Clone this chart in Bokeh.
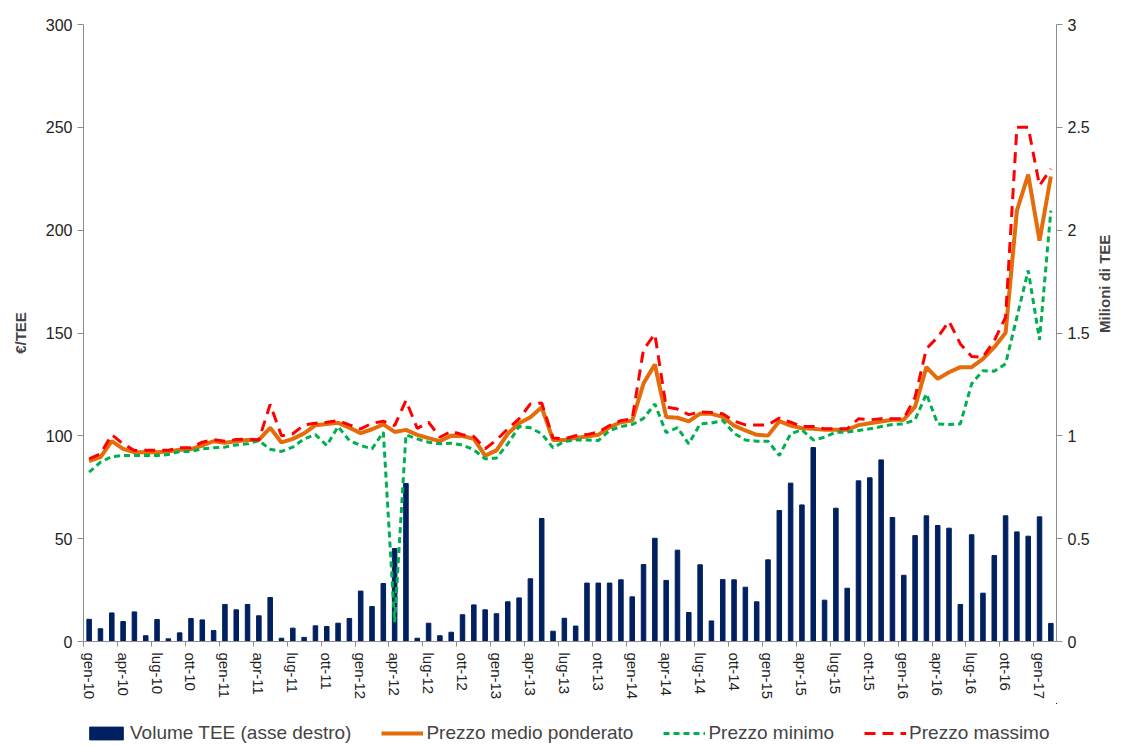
import math
from bokeh.plotting import figure
from bokeh.layouts import column
from bokeh.models import (Range1d, LinearAxis, FixedTicker, Legend, LegendItem,
                          CustomJSTickFormatter)
from bokeh.embed import file_html
from bokeh.resources import INLINE

# ---------------- data ----------------
month_names = ["gen", "feb", "mar", "apr", "mag", "giu", "lug", "ago", "set", "ott", "nov", "dic"]
months = [f"{month_names[i % 12]}-{10 + i // 12}" for i in range(86)]  # gen-10 ... feb-17

volume_mln = [0.108, 0.062, 0.139, 0.097, 0.144, 0.028, 0.107, 0.013, 0.042, 0.112,
              0.105, 0.053, 0.180, 0.154, 0.180, 0.125, 0.214, 0.016, 0.065, 0.020,
              0.076, 0.073, 0.089, 0.112, 0.245, 0.170, 0.282, 0.452, 0.768, 0.016,
              0.089, 0.028, 0.045, 0.130, 0.178, 0.154, 0.135, 0.193, 0.212, 0.305,
              0.598, 0.050, 0.113, 0.075, 0.284, 0.284, 0.284, 0.300, 0.217, 0.374,
              0.502, 0.297, 0.444, 0.141, 0.373, 0.100, 0.301, 0.300, 0.264, 0.193,
              0.397, 0.637, 0.770, 0.664, 0.943, 0.201, 0.648, 0.259, 0.781, 0.796,
              0.883, 0.603, 0.322, 0.515, 0.611, 0.564, 0.551, 0.180, 0.519, 0.235,
              0.418, 0.611, 0.533, 0.512, 0.606, 0.088]

prezzo_medio = [87.7, 89.6, 97.4, 93.7, 92.0, 92.0, 92.0, 92.4, 93.2, 93.5,
                95.3, 97.4, 96.6, 97.4, 98.0, 98.0, 103.9, 96.8, 98.5, 101.2,
                105.2, 105.8, 106.3, 104.0, 101.3, 103.2, 105.6, 101.9, 102.9, 100.5,
                98.9, 97.4, 100.1, 99.9, 98.5, 90.4, 92.9, 101.0, 106.1, 109.0,
                113.9, 98.0, 98.0, 99.0, 99.7, 100.5, 104.2, 106.6, 107.4, 125.5,
                134.7, 109.2, 108.8, 107.0, 110.8, 110.7, 109.2, 105.0, 102.6, 100.5,
                100.1, 107.1, 105.0, 103.7, 103.4, 102.9, 102.9, 102.9, 105.2, 106.1,
                107.0, 107.8, 107.8, 114.2, 133.4, 127.7, 130.9, 133.4, 133.4, 137.4,
                143.1, 150.1, 209.5, 227.0, 194.9, 226.1]

prezzo_minimo = [82.3, 87.2, 89.9, 90.4, 90.4, 90.4, 90.4, 90.9, 92.4, 92.4,
                 93.7, 94.2, 94.5, 95.6, 96.1, 97.7, 93.5, 92.4, 94.5, 98.5,
                 100.6, 95.3, 104.5, 97.7, 95.3, 93.7, 101.8, 9.4, 100.5, 98.5,
                 96.9, 96.1, 96.4, 95.5, 93.2, 88.8, 89.2, 96.1, 104.5, 103.9,
                 101.0, 94.2, 97.2, 98.0, 98.0, 97.7, 102.6, 104.5, 105.5, 108.5,
                 115.5, 101.5, 104.0, 96.1, 105.8, 106.2, 107.5, 101.2, 98.0, 97.4,
                 97.4, 90.4, 101.0, 102.9, 98.0, 99.3, 101.8, 101.8, 102.6, 103.4,
                 104.5, 105.5, 105.8, 107.8, 120.4, 105.8, 105.5, 105.8, 125.3, 131.7,
                 131.4, 135.0, 157.7, 180.4, 146.7, 209.5]

prezzo_massimo = [88.8, 91.2, 100.5, 96.1, 92.9, 93.0, 93.0, 93.0, 94.2, 94.2,
                  96.9, 98.2, 97.4, 98.2, 98.5, 98.0, 115.3, 100.0, 101.0, 105.3,
                  106.1, 106.6, 107.4, 105.3, 103.4, 106.1, 107.1, 105.0, 117.2, 103.6,
                  106.6, 99.3, 102.2, 100.5, 99.7, 93.7, 98.0, 103.4, 108.3, 115.5,
                  116.0, 99.0, 98.5, 100.1, 100.6, 101.8, 105.0, 107.4, 108.3, 142.0,
                  149.5, 114.0, 113.0, 110.3, 111.6, 111.3, 110.7, 107.2, 105.3, 105.3,
                  105.3, 108.6, 106.6, 104.5, 104.5, 103.4, 103.4, 103.4, 108.3, 107.8,
                  108.3, 108.3, 108.3, 118.8, 142.3, 148.0, 155.7, 144.7, 138.6, 138.2,
                  146.3, 157.7, 250.0, 250.0, 221.7, 229.8]

left_ticks = [0, 50, 100, 150, 200, 250, 300]
right_ticks = [0, 0.5, 1, 1.5, 2, 2.5, 3]

legend_labels = ["Volume TEE (asse destro)", "Prezzo medio ponderato",
                 "Prezzo minimo", "Prezzo massimo"]

x = list(range(len(months)))
label_ticks = list(range(0, len(months), 3))
boundary_ticks = [t - 0.5 for t in range(0, len(months) + 1, 3)]

FONT = "Liberation Sans"
AXIS_COL = "#8c8c8c"
C_BAR, C_MED, C_MIN, C_MAX = "#002060", "#E46C0A", "#00B050", "#FF0000"

# ---------------- main chart ----------------
p = figure(width=1124, height=703, output_backend="svg", toolbar_location=None,
           x_range=Range1d(-0.5, len(months) - 0.5), y_range=Range1d(0, 300),
           min_border_left=83, min_border_right=65, min_border_top=24, min_border_bottom=62,
           background_fill_color="white", border_fill_color="white", outline_line_color=None)
p.extra_y_ranges = {"vol": Range1d(0, 3)}
p.xgrid.visible = False
p.ygrid.visible = False

p.vbar(x=x, top=volume_mln, width=0.4, y_range_name="vol", fill_color=C_BAR, line_color=C_BAR)
p.line(x, prezzo_medio, line_color=C_MED, line_width=4)
p.line(x, prezzo_minimo, line_color=C_MIN, line_width=3, line_dash="6 4")
p.line(x, prezzo_massimo, line_color=C_MAX, line_width=3, line_dash="11 7")

# x axis
xa = p.xaxis[0]
xa.ticker = FixedTicker(ticks=label_ticks, minor_ticks=boundary_ticks)
xa.formatter = CustomJSTickFormatter(args=dict(labels=months),
                                     code="return labels[Math.round(tick)] || '';")
xa.major_label_orientation = "vertical"
xa.major_tick_out = 0
xa.major_tick_in = 0
xa.minor_tick_out = 5
xa.minor_tick_in = 0
xa.minor_tick_line_color = AXIS_COL
xa.axis_line_color = AXIS_COL
xa.major_label_text_font = FONT
xa.major_label_text_font_size = "15px"
xa.major_label_text_color = "#222222"
xa.major_label_standoff = 6

# left axis
ya = p.yaxis[0]
ya.ticker = FixedTicker(ticks=left_ticks)
ya.axis_label = "€/TEE"
ya.axis_label_text_font = FONT
ya.axis_label_text_font_style = "bold"
ya.axis_label_text_font_size = "15px"
ya.axis_label_standoff = 14
ya.major_label_text_font = FONT
ya.major_label_text_font_size = "16px"
ya.major_label_text_color = "#222222"
ya.major_tick_out = 6
ya.major_tick_in = 0
ya.minor_tick_out = 0
ya.minor_tick_in = 0
ya.axis_line_color = AXIS_COL
ya.major_tick_line_color = AXIS_COL

# right axis
ra = LinearAxis(y_range_name="vol", ticker=FixedTicker(ticks=right_ticks),
                formatter=CustomJSTickFormatter(code="return String(Math.round(tick*10)/10);"))
ra.axis_label = "Milioni di TEE"
ra.axis_label_text_font = FONT
ra.axis_label_text_font_style = "bold"
ra.axis_label_text_font_size = "15px"
ra.axis_label_standoff = 12
ra.major_label_text_font = FONT
ra.major_label_text_font_size = "16px"
ra.major_label_text_color = "#222222"
ra.major_tick_out = 6
ra.major_tick_in = 0
ra.minor_tick_out = 0
ra.minor_tick_in = 0
ra.axis_line_color = AXIS_COL
ra.major_tick_line_color = AXIS_COL
try:
    ra.axis_label_orientation = math.pi / 2
except Exception:
    pass
p.add_layout(ra, "right")

# ---------------- legend strip (same series, drawn out of view; only legend visible) ----------------
lg = figure(width=1124, height=42, output_backend="svg", toolbar_location=None,
            x_range=Range1d(-300, -200), y_range=Range1d(-300, -200), min_border=0,
            x_axis_location=None, y_axis_location=None,
            background_fill_color="white", border_fill_color="white", outline_line_color=None)
lg.xgrid.visible = False
lg.ygrid.visible = False
r_bar = lg.vbar(x=x, top=volume_mln, width=0.4, fill_color=C_BAR, line_color=C_BAR)
r_med = lg.line(x, prezzo_medio, line_color=C_MED, line_width=4)
r_min = lg.line(x, prezzo_minimo, line_color=C_MIN, line_width=3, line_dash="6 4")
r_max = lg.line(x, prezzo_massimo, line_color=C_MAX, line_width=3, line_dash="11 7")

legend = Legend(items=[LegendItem(label=lab, renderers=[r])
                       for lab, r in zip(legend_labels, [r_bar, r_med, r_min, r_max])],
                orientation="horizontal", location=(2, 1), spacing=30,
                glyph_width=42, glyph_height=16, label_standoff=3,
                label_text_font=FONT, label_text_font_size="19px",
                border_line_color=None, background_fill_alpha=0, padding=0, margin=0)
lg.add_layout(legend, "center")

layout = column(p, lg, spacing=0)
open("out.html", "w").write(file_html(layout, INLINE))
